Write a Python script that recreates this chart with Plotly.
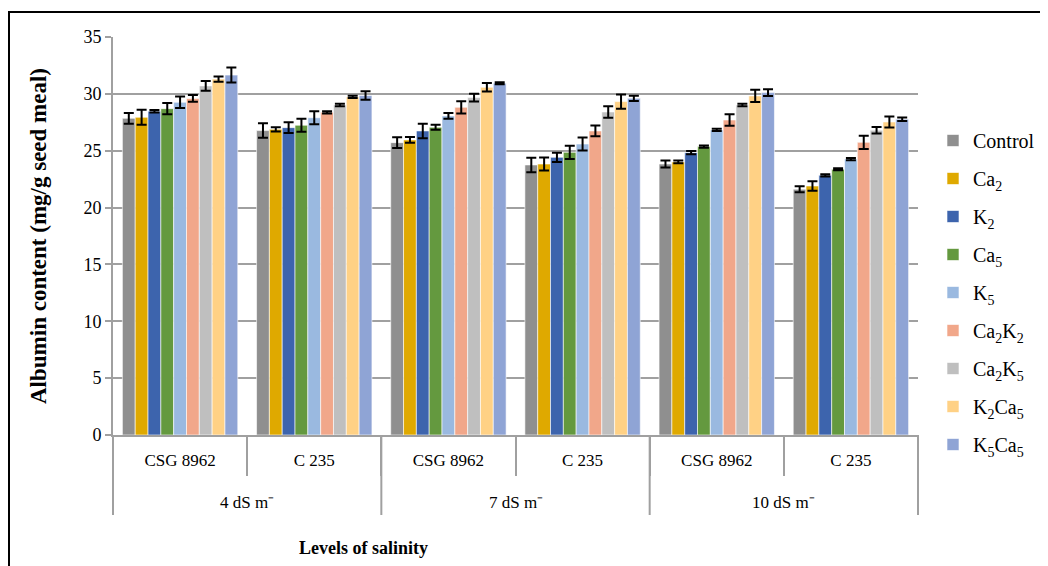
import plotly.graph_objects as go

salinity_levels = ["4 dS m⁻", "7 dS m⁻", "10 dS m⁻"]
salinity_x = ["4 dS m⁻", "4 dS m⁻", "7 dS m⁻", "7 dS m⁻", "10 dS m⁻", "10 dS m⁻"]
genotype_x = ["CSG 8962", "C 235", "CSG 8962", "C 235", "CSG 8962", "C 235"]

treatments = ["Control", "Ca<sub>2</sub>", "K<sub>2</sub>", "Ca<sub>5</sub>", "K<sub>5</sub>",
              "Ca<sub>2</sub>K<sub>2</sub>", "Ca<sub>2</sub>K<sub>5</sub>",
              "K<sub>2</sub>Ca<sub>5</sub>", "K<sub>5</sub>Ca<sub>5</sub>"]

control = [27.85, 26.77, 25.71, 23.75, 23.83, 21.61]
ca2 = [27.94, 26.88, 25.95, 23.83, 24.01, 21.90]
k2 = [28.47, 27.03, 26.74, 24.42, 24.83, 22.84]
ca5 = [28.70, 27.24, 27.06, 24.86, 25.36, 23.37]
k5 = [29.26, 27.90, 28.06, 25.59, 26.83, 24.27]
ca2k2 = [29.60, 28.38, 28.82, 26.74, 27.70, 25.74]
ca2k5 = [30.70, 29.02, 29.67, 28.41, 29.02, 26.80]
k2ca5 = [31.30, 29.73, 30.58, 29.32, 29.82, 27.53]
k5ca5 = [31.65, 29.85, 30.93, 29.61, 30.11, 27.77]

err_control = [0.47, 0.64, 0.47, 0.64, 0.30, 0.26]
err_ca2 = [0.66, 0.18, 0.25, 0.58, 0.12, 0.41]
err_k2 = [0.10, 0.48, 0.64, 0.41, 0.15, 0.10]
err_ca5 = [0.50, 0.58, 0.22, 0.58, 0.10, 0.08]
err_k5 = [0.50, 0.57, 0.25, 0.58, 0.10, 0.10]
err_ca2k2 = [0.30, 0.10, 0.54, 0.47, 0.50, 0.58]
err_ca2k5 = [0.42, 0.10, 0.35, 0.51, 0.10, 0.29]
err_k2ca5 = [0.23, 0.10, 0.38, 0.62, 0.54, 0.48]
err_k5ca5 = [0.66, 0.37, 0.08, 0.23, 0.30, 0.15]

values = [control, ca2, k2, ca5, k5, ca2k2, ca2k5, k2ca5, k5ca5]
errors = [err_control, err_ca2, err_k2, err_ca5, err_k5, err_ca2k2, err_ca2k5, err_k2ca5, err_k5ca5]
colors = ["#8F8F8F", "#DFA900", "#3D64AD", "#64993F", "#9AB9E0",
          "#F1A78A", "#BFBFBF", "#FFD185", "#8FA4D5"]

# unique category keys (salinity | genotype); tick text shows the genotype only
cat_keys = [f"{s}|{g}" for s, g in zip(salinity_x, genotype_x)]

SERIF = "Liberation Serif, Times New Roman, serif"

fig = go.Figure()
for name, vals, errs, col in zip(treatments, values, errors, colors):
    fig.add_trace(go.Bar(
        x=cat_keys, y=vals, name=name,
        marker=dict(color=col, line=dict(color="white", width=0.6)),
        error_y=dict(type="data", array=errs, visible=True, color="black",
                     thickness=2, width=5),
        legendgroup=name,
    ))

grey = "#A0A0A0"
# page body has an 8px margin; figure sized to fill the rest of the window
W, H = 1040, 558
# plot area in window pixels: x 113..918, y 37..435
PX0, PX1, PY0, PY1 = 113, 918, 37, 435
OFF = 8
l, t = PX0 - OFF, PY0 - OFF
r, b = W - (PX1 - OFF), H - (PY1 - OFF)
pw, ph = PX1 - PX0, PY1 - PY0

def px_x(p):
    return (p - PX0) / pw

def px_y(p):
    return (PY1 - p) / ph

fig.update_layout(
    width=W, height=H,
    margin=dict(l=l, r=r, t=t, b=b, autoexpand=False),
    paper_bgcolor="white", plot_bgcolor="white",
    barmode="group", bargap=0.14, bargroupgap=0,
    font=dict(family=SERIF, size=17, color="black"),
    legend=dict(x=px_x(933), y=px_y(121), xanchor="left", yanchor="top",
                font=dict(family=SERIF, size=20, color="black"),
                tracegroupgap=9, itemwidth=30),
    xaxis=dict(
        type="category", automargin=False,
        tickmode="array", tickvals=cat_keys, ticktext=genotype_x,
        showline=True, linecolor=grey, linewidth=2,
        ticks="outside", tickson="boundaries", ticklen=39, tickcolor=grey, tickwidth=2,
        ticklabelstandoff=9,
        tickfont=dict(family=SERIF, size=17, color="black"),
    ),
    yaxis=dict(
        range=[0, 35], dtick=5, automargin=False,
        showline=True, linecolor=grey, linewidth=2,
        ticks="outside", ticklen=6, tickcolor=grey, tickwidth=2,
        showgrid=True, gridcolor=grey, gridwidth=2, zeroline=False,
        title=dict(text="<b>Albumin content (mg/g seed meal)</b>",
                   font=dict(family=SERIF, size=23, color="black"), standoff=30),
        tickfont=dict(family=SERIF, size=18, color="black"),
    ),
    showlegend=True,
)

# outer-level category labels and dividers
n_out = len(salinity_levels)
for i, lvl in enumerate(salinity_levels):
    fig.add_annotation(text=lvl, xref="paper", yref="paper",
                       x=(i + 0.5) / n_out, y=px_y(502), showarrow=False,
                       xanchor="center", yanchor="middle",
                       font=dict(family=SERIF, size=17, color="black"))
for i in range(n_out + 1):
    fig.add_shape(type="line", xref="paper", yref="paper",
                  x0=i / n_out, x1=i / n_out, y0=0, y1=px_y(515),
                  line=dict(color=grey, width=2))

# x-axis title
fig.add_annotation(text="<b>Levels of salinity</b>", xref="paper", yref="paper",
                   x=px_x(363), y=px_y(548), showarrow=False,
                   xanchor="center", yanchor="middle",
                   font=dict(family=SERIF, size=18, color="black"))

# outer frame of the figure
fig.add_shape(type="rect", xref="paper", yref="paper",
              x0=px_x(9), x1=px_x(W + 20), y0=px_y(H + 20), y1=px_y(12),
              line=dict(color="black", width=2), fillcolor="rgba(0,0,0,0)", layer="below")

fig.write_html("out.html")
